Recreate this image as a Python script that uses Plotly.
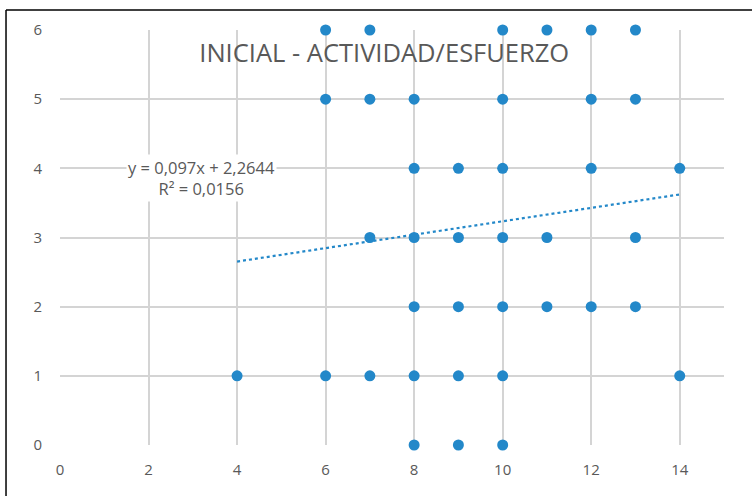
import plotly.graph_objects as go

# points (x = actividad, y = esfuerzo)
x_vals = [6, 7, 10, 11, 12, 13,
          6, 7, 8, 10, 12, 13,
          8, 9, 10, 12, 14,
          7, 8, 9, 10, 11, 13,
          8, 9, 10, 11, 12, 13,
          4, 6, 7, 8, 9, 10, 14,
          8, 9, 10]
y_vals = [6, 6, 6, 6, 6, 6,
          5, 5, 5, 5, 5, 5,
          4, 4, 4, 4, 4,
          3, 3, 3, 3, 3, 3,
          2, 2, 2, 2, 2, 2,
          1, 1, 1, 1, 1, 1, 1,
          0, 0, 0]

slope = 0.097
intercept = 2.2644
r2 = 0.0156
trend_x = [4, 14]
trend_y = [slope * v + intercept for v in trend_x]

blue = '#2388C9'
grid = '#D4D4D4'
txt = '#595959'

fig = go.Figure()
fig.add_trace(go.Scatter(x=trend_x, y=trend_y, mode='lines',
                         line=dict(color=blue, width=2.2, dash='dot'),
                         showlegend=False))
fig.add_trace(go.Scatter(x=x_vals, y=y_vals, mode='markers',
                         marker=dict(color=blue, size=11),
                         cliponaxis=False, showlegend=False))

fig.add_annotation(x=3.2, y=3.86, xref='x', yref='y', showarrow=False,
                   text='y = 0,097x + 2,2644<br>R² = 0,0156',
                   font=dict(family='Open Sans', size=16.5, color=txt),
                   bgcolor='white', align='center')

# frame line around the image (left and top)
fig.add_shape(type='line', xref='paper', yref='paper',
              x0=-0.0813, x1=-0.0813, y0=1.048, y1=-0.13,
              line=dict(color='black', width=1.5))
fig.add_shape(type='line', xref='paper', yref='paper',
              x0=-0.0813, x1=1.05, y0=1.048, y1=1.048,
              line=dict(color='black', width=1.5))

fig.update_layout(
    width=752, height=496,
    margin=dict(l=60, r=28, t=30, b=51),
    paper_bgcolor='white', plot_bgcolor='white',
    title=dict(text='INICIAL - ACTIVIDAD/ESFUERZO', xref='container', x=0.511,
               xanchor='center', y=0.892, yanchor='middle',
               font=dict(family='Open Sans', size=25.5, color=txt)),
    font=dict(family='Open Sans', size=15, color=txt),
)
fig.update_xaxes(range=[0, 15], tickvals=[0, 2, 4, 6, 8, 10, 12, 14],
                 showgrid=True, gridcolor=grid, gridwidth=2,
                 zeroline=False, showline=False, ticks='', ticklabelstandoff=14)
fig.update_yaxes(range=[0, 6], dtick=1,
                 showgrid=True, gridcolor=grid, gridwidth=2,
                 zeroline=False, showline=False, ticks='', ticklabelstandoff=17)
fig.write_html("out.html", config={'displayModeBar': False},
               post_script="document.body.style.margin='0';")
